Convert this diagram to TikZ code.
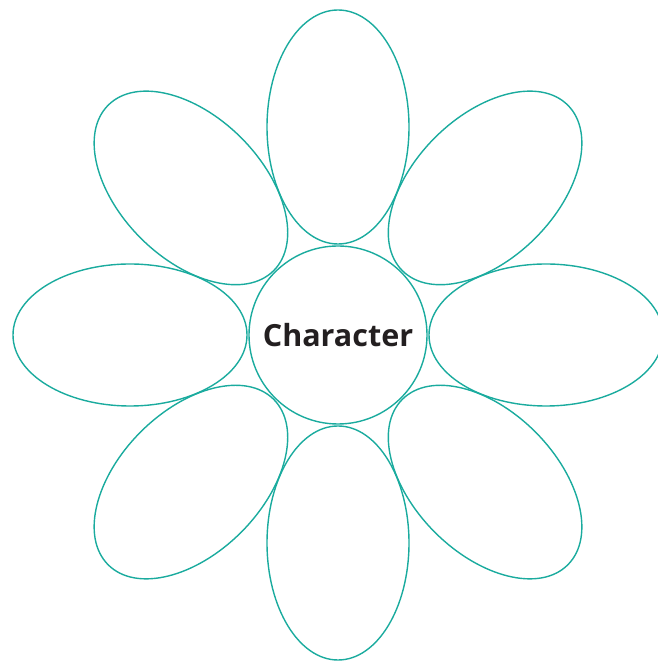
\documentclass[tikz,border=0pt]{standalone}
\usepackage{fontspec}
\setsansfont{Open Sans}
\usetikzlibrary{shapes.geometric,positioning,calc}
\definecolor{petalteal}{HTML}{1AAB9E}
\definecolor{textgray}{HTML}{231F20}
\begin{document}
\begin{tikzpicture}[
  x=1pt,y=1pt,
  petal/.style={draw=petalteal,ellipse,line width=1.4pt,minimum width=234pt,minimum height=142pt,inner sep=0pt},
  hub/.style={draw=petalteal,circle,line width=1.4pt,minimum size=178pt,inner sep=0pt,text=textgray,font=\sffamily\bfseries\fontsize{30.5}{36}\selectfont}
]
  \useasboundingbox (0,0) rectangle (657,663);
  \node[hub] (char) at (338,328) {Character};
  \foreach \ang [count=\i] in {0,45,...,315}
    \node[petal,rotate=\ang] (petal\i) at ($(char.center)+(\ang:208)$) {};
\end{tikzpicture}
\end{document}
